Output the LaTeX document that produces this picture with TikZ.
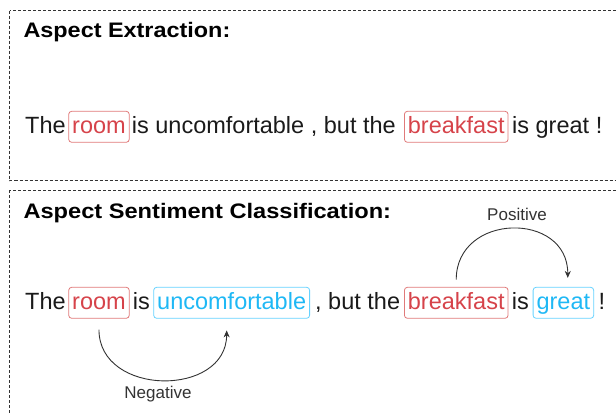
\documentclass[tikz,border=0pt]{standalone}
\usepackage{fontspec}
\usepackage{graphicx}
\setmainfont{Liberation Sans}
\usetikzlibrary{arrows.meta}
\definecolor{ink}{HTML}{1A1A1A}
\definecolor{redtxt}{HTML}{D6434A}
\definecolor{redbox}{HTML}{E07A7A}
\definecolor{bluetxt}{HTML}{1FB8F5}
\definecolor{bluebox}{HTML}{66D2FF}
\definecolor{framec}{HTML}{333333}
\begin{document}
\begin{tikzpicture}[x=1pt,y=-1pt,
  word/.style={anchor=base west, inner sep=0pt, text=ink, font=\fontsize{23.5}{28}\selectfont},
  aspectbox/.style={word, draw=redbox, text=redtxt, rounded corners=3pt, line width=0.8pt,
     inner xsep=3.5pt, inner ysep=0pt, text height=22pt, text depth=9pt},
  opinionbox/.style={aspectbox, draw=bluebox, text=bluetxt},
  title/.style={anchor=base west, inner sep=0pt, text=black, font=\fontsize{21}{25}\selectfont\bfseries},
  lab/.style={anchor=base, inner sep=0pt, text=framec, font=\fontsize{17}{20}\selectfont},
  panel/.style={draw=framec, line width=0.8pt, dash pattern=on 3pt off 2pt},
  conn/.style={draw=framec, line width=0.9pt, -{Stealth[length=7pt,width=6pt]}}]
\useasboundingbox (0,0) rectangle (616,415);
\clip (0,0) rectangle (616,415);
% panels
\draw[panel] (9.5,10.5) rectangle (640,180.5);
\draw[panel] (9.5,190) rectangle (640,440);
% panel 1
\node[title] (t1) at (23.3,37.7) {\scalebox{1.115}[1]{Aspect Extraction:}};
\node[word] (a1) at (25,133.3) {The};
\node[aspectbox] (r1) at (68.3,133.3) {room};
\node[word] (a2) at (131.7,133.3) {is uncomfortable , but the};
\node[aspectbox] (b1) at (404,133.3) {breakfast};
\node[word] (a3) at (512,133.3) {is great !};
% panel 2
\node[title] (t2) at (23.3,218.3) {\scalebox{1.125}[1]{Aspect Sentiment Classification:}};
\node[word] (c1) at (25,309.3) {The};
\node[aspectbox] (r2) at (68.3,309.3) {room};
\node[word] (c2) at (132.7,309.3) {is};
\node[opinionbox] (u2) at (153.3,309.3) {uncomfortable\hspace{4pt}};
\node[word] (c3) at (315,309.3) {, but the};
\node[aspectbox] (b2) at (404,309.3) {breakfast};
\node[word] (c4) at (511.7,309.3) {is};
\node[opinionbox] (g2) at (532.7,309.3) {great};
\node[word] (c5) at (598.3,309.3) {!};
% arrows
\draw[conn] ([yshift=-11pt]r2.south) .. controls +(0,67) and +(0,67) .. ([xshift=-5pt,yshift=-11.7pt]u2.south);
\draw[conn] ([yshift=7.3pt]b2.north) .. controls +(0,-67) and +(0,-67) .. ([xshift=4.4pt,yshift=9pt]g2.north);
\node[lab] (neg) at (158,398.5) {Negative};
\node[lab] (pos) at (517,220) {Positive};
\end{tikzpicture}
\end{document}
